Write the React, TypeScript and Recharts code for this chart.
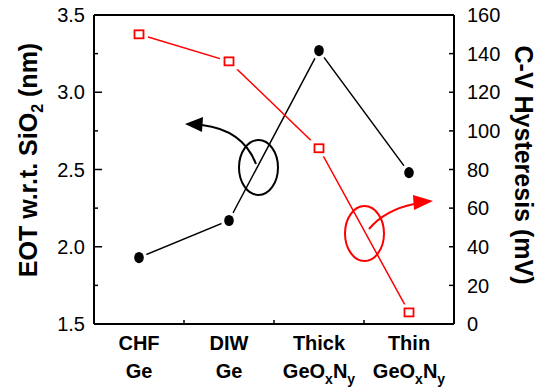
import React from "react"
import { LineChart, Line, XAxis, YAxis, ReferenceLine } from "recharts"

// sample names, two lines each ("_" marks a subscript letter)
const nomesTopo = ["CHF", "DIW", "Thick", "Thin"]
const nomesBase = ["Ge", "Ge", "GeO_xN_y", "GeO_xN_y"]

// EOT w.r.t. SiO2 (nm), left axis
const eot = [1.93, 2.17, 3.27, 2.48]
// C-V hysteresis (mV), right axis
const histerese = [150, 136, 91, 6]

const ticksEot = [1.5, 1.75, 2, 2.25, 2.5, 2.75, 3, 3.25, 3.5]
const ticksHist = [0, 20, 40, 60, 80, 100, 120, 140, 160]

const dados = nomesTopo.map((n, i) => ({
  nome: `${n} ${nomesBase[i]}`,
  eot: eot[i],
  hist: histerese[i],
}))

const W = 537
const H = 391
const ESQ = 94
const DIR = 83
const FAIXA = (W - ESQ - DIR) / nomesTopo.length
const FONTE = "'Liberation Sans', Arial, Helvetica, sans-serif"

const comSubscrito = (s: string) => {
  const partes: React.ReactNode[] = []
  let sub = false
  let k = 0
  for (let i = 0; i < s.length; i++) {
    if (s[i] === "_") {
      partes.push(
        <tspan key={k++} dy={6} fontSize={14}>{s[i + 1]}</tspan>
      )
      i++
      sub = true
    } else {
      partes.push(
        <tspan key={k++} dy={sub ? -6 : 0}>{s[i]}</tspan>
      )
      sub = false
    }
  }
  return partes
}

const TickX = ({ x, y, payload }: any) => {
  const i = payload.index
  return (
    <g>
      {i > 0 && (
        <line x1={x - FAIXA / 2} x2={x - FAIXA / 2} y1={y} y2={y - 4} stroke="#000" strokeWidth={1.5} />
      )}
      <text x={x} y={y + 26} textAnchor="middle" fontFamily={FONTE} fontWeight="bold" fontSize={20} fill="#000">
        {nomesTopo[i]}
      </text>
      <text x={x} y={y + 54} textAnchor="middle" fontFamily={FONTE} fontWeight="bold" fontSize={20} fill="#000">
        {comSubscrito(nomesBase[i])}
      </text>
    </g>
  )
}

const TickEsq = ({ x, y, payload }: any) => {
  const v = payload.value
  const maior = Math.abs(v * 2 - Math.round(v * 2)) < 1e-6
  return (
    <g>
      <line x1={x} x2={x + (maior ? 8 : 4)} y1={y} y2={y} stroke="#000" strokeWidth={1.5} />
      {maior && (
        <text x={x - 9} y={y} dy="0.36em" textAnchor="end" fontFamily={FONTE} fontSize={20} fill="#000">
          {v.toFixed(1)}
        </text>
      )}
    </g>
  )
}

const TickDir = ({ x, y, payload }: any) => (
  <g>
    <line x1={x} x2={x - 5} y1={y} y2={y} stroke="#000" strokeWidth={1.5} />
    <text x={x + 13} y={y} dy="0.36em" textAnchor="start" fontFamily={FONTE} fontSize={20} fill="#000">
      {payload.value}
    </text>
  </g>
)

const PontoPreto = ({ cx, cy }: any) => (
  <g>
    <ellipse cx={cx} cy={cy} rx={8} ry={9} fill="#fff" />
    <ellipse cx={cx} cy={cy} rx={4.8} ry={5.6} fill="#000" />
  </g>
)

const QuadradoVermelho = ({ cx, cy }: any) => (
  <g>
    <rect x={cx - 9} y={cy - 8} width={18} height={16} fill="#fff" />
    <rect x={cx - 4.5} y={cy - 4} width={9} height={8} fill="#fff" stroke="#ff0000" strokeWidth={1.8} />
  </g>
)

export default function App() {
  return (
    <div style={{ position: "absolute", left: 0, top: 0, width: W, height: H, background: "#fff" }}>
      <LineChart width={W} height={H} data={dados} margin={{ top: 15, right: 0, bottom: 0, left: 0 }}>
        <XAxis
          dataKey="nome"
          scale="band"
          height={H - 324}
          axisLine={{ stroke: "#000", strokeWidth: 2 }}
          tickLine={false}
          tickSize={0}
          tickMargin={0}
          tick={<TickX />}
          interval={0}
        />
        <YAxis
          yAxisId="eot"
          width={ESQ}
          domain={[1.5, 3.5]}
          ticks={ticksEot}
          interval={0}
          axisLine={{ stroke: "#000", strokeWidth: 2 }}
          tickLine={false}
          tickSize={0}
          tickMargin={0}
          tick={<TickEsq />}
        />
        <YAxis
          yAxisId="hist"
          orientation="right"
          width={DIR}
          domain={[0, 160]}
          ticks={ticksHist}
          interval={0}
          axisLine={{ stroke: "#000", strokeWidth: 2 }}
          tickLine={false}
          tickSize={0}
          tickMargin={0}
          tick={<TickDir />}
        />
        <ReferenceLine yAxisId="eot" y={3.5} stroke="#000" strokeWidth={2} />
        <Line
          yAxisId="eot"
          dataKey="eot"
          stroke="#000"
          strokeWidth={1.5}
          dot={<PontoPreto />}
          activeDot={false}
          isAnimationActive={false}
        />
        <Line
          yAxisId="hist"
          dataKey="hist"
          stroke="#ff0000"
          strokeWidth={1.5}
          dot={<QuadradoVermelho />}
          activeDot={false}
          isAnimationActive={false}
        />
      </LineChart>

      <svg width={W} height={H} style={{ position: "absolute", left: 0, top: 0, pointerEvents: "none" }}>
        {/* axis titles */}
        <text
          transform="translate(37,160) rotate(-90)"
          textAnchor="middle"
          fontFamily={FONTE}
          fontWeight="bold"
          fontSize={25}
          fill="#000"
        >
          EOT w.r.t. SiO<tspan dy={6} fontSize={16}>2</tspan>
          <tspan dy={-6}> (nm)</tspan>
        </text>
        <text
          transform="translate(515,165) rotate(90)"
          textAnchor="middle"
          fontFamily={FONTE}
          fontWeight="bold"
          fontSize={25}
          fill="#000"
        >
          C-V Hysteresis (mV)
        </text>

        {/* black annotation: points to the left axis */}
        <ellipse cx={258.5} cy={167.5} rx={19.5} ry={27.5} fill="none" stroke="#000" strokeWidth={2} />
        <path d="M256,164 Q243,130 202,125" fill="none" stroke="#000" strokeWidth={2} />
        <polygon points="185,124 203,117 202,132" fill="#000" />

        {/* red annotation: points to the right axis */}
        <ellipse cx={364.5} cy={233.5} rx={19.5} ry={27.5} fill="none" stroke="#ff0000" strokeWidth={2} />
        <path d="M369,229 Q385,210 414,204" fill="none" stroke="#ff0000" strokeWidth={2} />
        <polygon points="433,201 413,195 414,210" fill="#ff0000" />
      </svg>
    </div>
  )
}
